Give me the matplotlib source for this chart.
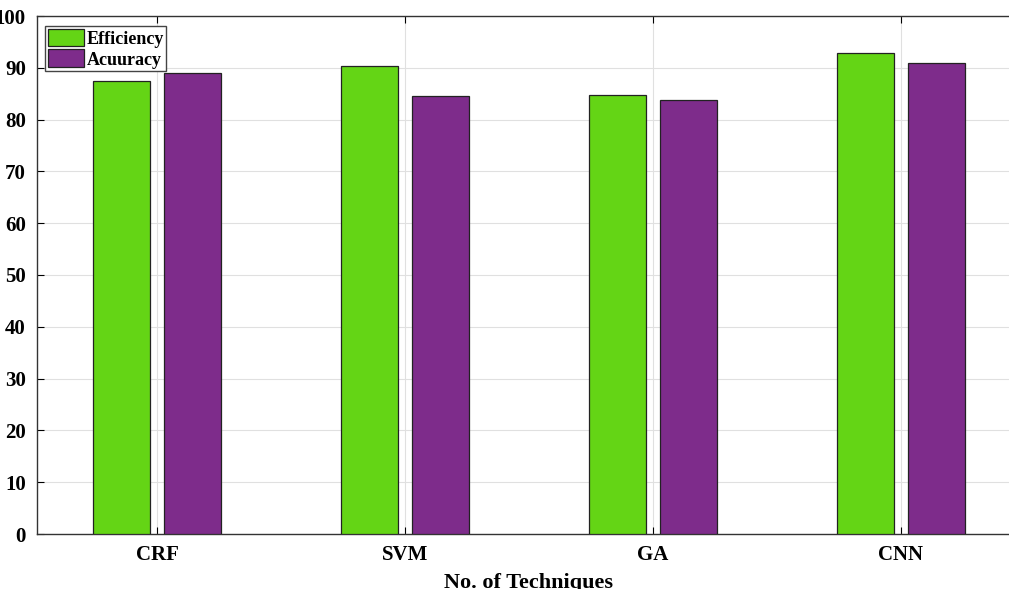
import matplotlib.pyplot as plt
import numpy as np

plt.rcParams['font.family'] = ['Liberation Serif', 'DejaVu Serif']
plt.rcParams['font.weight'] = 'bold'

techniques = ['CRF', 'SVM', 'GA', 'CNN']
efficiency = [87.4, 90.4, 84.7, 92.8]
accuracy = [89.0, 84.5, 83.7, 90.9]

fig = plt.figure(figsize=(10.09, 5.89), dpi=100)
# axes runs a bit past the right edge of the picture, like the original crop
ax = fig.add_axes([37 / 1009, (589 - 534) / 589, (1021 - 37) / 1009, (534 - 16) / 589])

x = np.arange(1, len(techniques) + 1)
w = 0.23
ax.bar(x - 0.145, efficiency, w, color='#64d515', edgecolor='#222222', linewidth=0.9, label='Efficiency', zorder=3)
ax.bar(x + 0.145, accuracy, w, color='#7e2c8b', edgecolor='#222222', linewidth=0.9, label='Acuuracy', zorder=3)

ax.set_xlim(0.516, 4.484)
ax.set_ylim(0, 100)
ax.set_xticks(x)
ax.set_xticklabels(techniques)
ax.set_yticks(range(0, 101, 10))
ax.tick_params(direction='in', top=True, right=True, labelsize=15, length=5, width=0.8, pad=8)
ax.grid(True, color='#e0e0e0', linewidth=0.8, zorder=0)
for s in ax.spines.values():
    s.set_linewidth(1.0)
    s.set_color('#333333')
ax.set_xlabel('No. of Techniques', fontsize=16, fontweight='bold', labelpad=6)

ax.legend(loc='upper left', bbox_to_anchor=(0.008, 0.981), prop={'weight': 'bold', 'size': 13},
          handlelength=2.0, handleheight=1.15, handletextpad=0.15, borderpad=0.15, labelspacing=0.1,
          borderaxespad=0, fancybox=False, edgecolor='#444444', framealpha=1)

plt.savefig('out.png', dpi=100)
